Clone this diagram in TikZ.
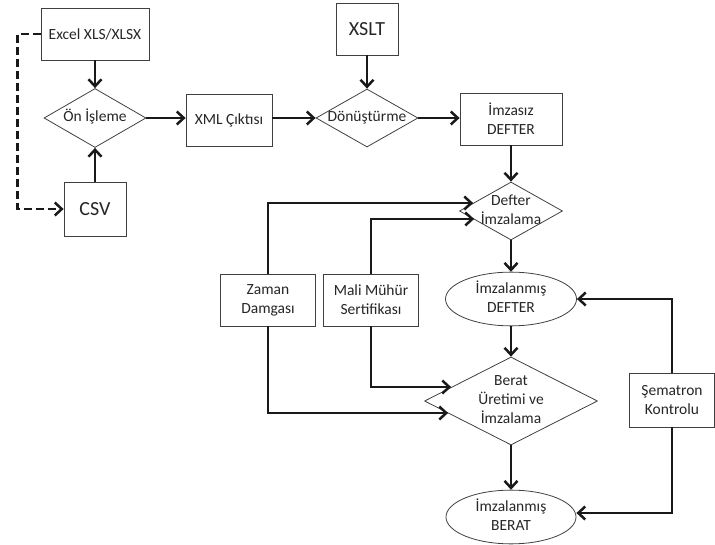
\documentclass[tikz,border=0pt]{standalone}
\usepackage{fontspec}
\setmainfont{Carlito}
\usetikzlibrary{arrows.meta,shapes.geometric,calc}
\newcommand\dtx[1]{\makebox[0pt]{\begin{tabular}{@{}c@{}}#1\end{tabular}}}
\begin{document}
\begin{tikzpicture}[x=1pt,y=-1pt,
  txt/.style={font=\fontsize{15.5}{19}\selectfont,text=black!85},
  box/.style={txt,draw=black!75,line width=0.8pt,fill=white,inner sep=0pt,align=center},
  bigbox/.style={box,font=\fontsize{20}{24}\selectfont},
  dia/.style={txt,draw=black!75,line width=0.8pt,diamond,inner sep=0pt},
  ell/.style={txt,draw=black!75,line width=0.8pt,ellipse,inner sep=0pt},
  arr/.style={draw=black!90,line width=2.5pt,-{Straight Barb[length=7pt,width=13pt]}},
  dsh/.style={arr,dash pattern=on 8pt off 4pt},
]
\useasboundingbox (0,0) rectangle (715,545);

\node[box,minimum width=108pt,minimum height=52pt] (excel) at (95,34) {Excel XLS/XLSX};
\node[dia,minimum width=102pt,minimum height=59pt] (onis) at (95,118) {\dtx{Ön İşleme}};
\node[bigbox,minimum width=62pt,minimum height=54pt] (csv) at (95,209) {CSV};
\node[box,minimum width=86pt,minimum height=52pt] (xml) at (229,120) {XML Çıktısı};
\node[bigbox,minimum width=62pt,minimum height=52pt] (xslt) at (367,29) {XSLT};
\node[dia,minimum width=102pt,minimum height=58pt] (donus) at (367,118) {\dtx{Dönüştürme}};
\node[box,minimum width=102pt,minimum height=52pt] (imzasiz) at (511,119) {İmzasız\\DEFTER};
\node[dia,minimum width=103pt,minimum height=58pt] (defimz) at (511,211) {\dtx{Defter\\İmzalama}};
\node[ell,minimum width=131pt,minimum height=48pt] (deft) at (511,299) {\dtx{İmzalanmış\\DEFTER}};
\node[box,minimum width=95pt,minimum height=52pt] (zaman) at (268,300) {Zaman\\Damgası};
\node[box,minimum width=95pt,minimum height=52pt] (mali) at (371,300) {Mali Mühür\\Sertifikası};
\node[dia,minimum width=173pt,minimum height=88pt] (berat) at (511,401) {\dtx{Berat\\Üretimi ve\\İmzalama}};
\node[ell,minimum width=130pt,minimum height=49pt] (beratE) at (511,517) {\dtx{İmzalanmış\\BERAT}};
\node[box,minimum width=85pt,minimum height=54pt] (sem) at (672,400) {Şematron\\Kontrolu};

\draw[arr] (excel.south) -- (onis.north);
\draw[arr] (csv.north) -- (onis.south);
\draw[dsh] (excel.west) -- ++(-23,0) |- (csv.west);
\draw[arr] (onis.east) -- (onis.east -| xml.west);
\draw[arr] (xml.east |- donus.west) -- (donus.west);
\draw[arr] (xslt.south) -- (donus.north);
\draw[arr] (donus.east) -- (donus.east -| imzasiz.west);
\draw[arr] (imzasiz.south) -- (defimz.north);
\draw[arr] (defimz.south) -- (deft.north);
\draw[arr] (deft.south) -- (berat.north);
\draw[arr] (berat.south) -- (beratE.north);
\draw[arr] (zaman.north) |- ($(defimz.west)+(14,-8)$);
\draw[arr] (mali.north) |- ($(defimz.west)+(15,8)$);
\draw[arr] (mali.south) |- ($(berat.west)+(27,-14)$);
\draw[arr] (zaman.south) |- ($(berat.west)+(24,12)$);
\draw[arr] (sem.north) |- (deft.east);
\draw[arr] (sem.south) |- ($(beratE.east)+(0,-4)$);
\end{tikzpicture}
\end{document}
